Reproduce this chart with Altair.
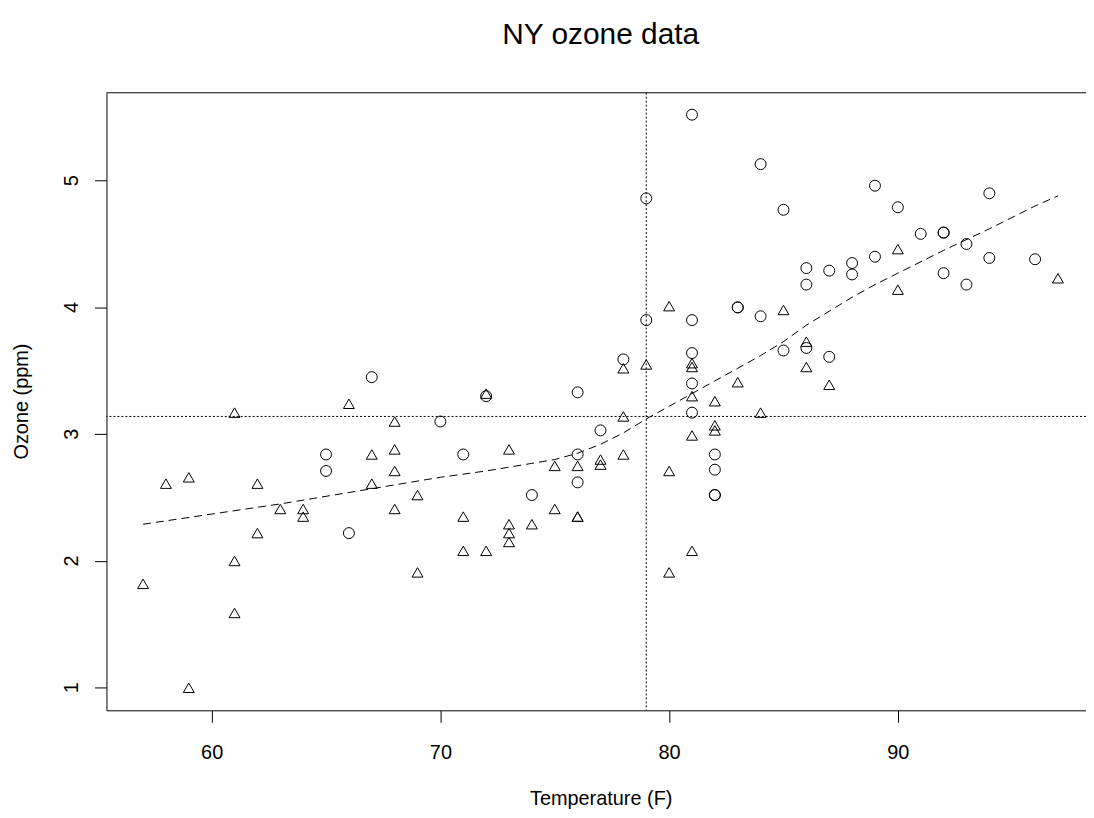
import altair as alt
import pandas as pd

# ---- data ----
tri_temp = [57, 58, 59, 59, 61, 61, 61, 62, 62, 63, 64, 64, 66, 67, 67, 68, 68, 68, 68, 69, 69,
            71, 71, 72, 72, 73, 73, 73, 73, 74, 75, 75, 76, 76, 76, 77, 77, 78, 78, 78, 79,
            80, 80, 80, 81, 81, 81, 81, 81, 82, 82, 82, 83, 84, 85, 86, 86, 87, 90, 90, 97]
tri_ozone = [1.82, 2.61, 2.66, 1.00, 3.17, 2.00, 1.59, 2.61, 2.22, 2.41, 2.41, 2.35, 3.24, 2.84,
             2.61, 3.10, 2.88, 2.71, 2.41, 2.52, 1.91, 2.35, 2.08, 3.32, 2.08, 2.88, 2.29, 2.22,
             2.15, 2.29, 2.75, 2.41, 2.75, 2.35, 2.35, 2.80, 2.76, 3.52, 3.14, 2.84, 3.55, 4.01,
             2.71, 1.91, 3.56, 3.53, 3.30, 2.99, 2.08, 3.26, 3.07, 3.03, 3.41, 3.17, 3.98, 3.73,
             3.53, 3.39, 4.46, 4.14, 4.23]
circ_temp = [65, 65, 66, 67, 70, 71, 72, 74, 76, 76, 76, 77, 78, 79, 79, 81, 81, 81, 81, 81,
             82, 82, 82, 82, 83, 83, 84, 84, 85, 85, 86, 86, 86, 87, 87, 88, 88, 89, 89, 90,
             91, 92, 92, 92, 93, 93, 94, 94, 96]
circ_ozone = [2.84, 2.71, 2.22, 3.45, 3.10, 2.84, 3.30, 2.52, 3.33, 2.84, 2.62, 3.03, 3.59, 4.86,
              3.90, 5.52, 3.90, 3.64, 3.40, 3.17, 2.84, 2.72, 2.52, 2.52, 4.00, 4.00, 5.13, 3.93,
              4.77, 3.66, 4.31, 4.18, 3.68, 4.29, 3.61, 4.35, 4.26, 4.96, 4.40, 4.79, 4.58, 4.59,
              4.59, 4.27, 4.50, 4.18, 4.90, 4.39, 4.38]
fit_temp = [57, 60, 63, 66, 68, 70, 72, 74, 75, 76, 77, 78, 79, 80, 81, 82, 83, 84, 85, 86,
            87, 88, 89, 90, 92, 94, 96, 97]
fit_ozone = [2.29, 2.37, 2.45, 2.54, 2.60, 2.66, 2.71, 2.77, 2.80, 2.85, 2.92, 3.01, 3.12, 3.22,
             3.32, 3.42, 3.52, 3.62, 3.73, 3.86, 3.97, 4.08, 4.18, 4.27, 4.45, 4.62, 4.80, 4.88]
x_ticks = [60, 70, 80, 90]
y_ticks = [1, 2, 3, 4, 5]
y_tick_labels = ["1", "2", "3", "4", "5"]
median_temp = 79
median_ozone = 3.14
title_text = ["NY ozone data"]

FONT = "Liberation Sans"
W, H = 985, 621
xdom = [55.4, 55.4 + W / 23.0]
ydom = [0.822, 5.693]

pts = pd.DataFrame({
    "temp": tri_temp + circ_temp,
    "ozone": tri_ozone + circ_ozone,
    "grp": ["triangle"] * len(tri_temp) + ["circle"] * len(circ_temp),
})
fit = pd.DataFrame({"temp": fit_temp, "ozone": fit_ozone})
ylabs = pd.DataFrame({"ozone": y_ticks, "lab": y_tick_labels})

xs = alt.Scale(domain=xdom, nice=False, zero=False)
ys = alt.Scale(domain=ydom, nice=False, zero=False)

x_axis = alt.Axis(values=x_ticks, format="d", grid=False, tickSize=12, tickColor="black",
                  tickWidth=1, domainColor="black", domainWidth=1,
                  labelFont=FONT, labelFontSize=20, labelColor="black", labelPadding=36,
                  labelBaseline="alphabetic", labelAlign="center",
                  title="Temperature (F)", titleFont=FONT, titleFontSize=20,
                  titleFontWeight="normal", titleColor="black", titleX=497, titleY=94.6,
                  titleBaseline="alphabetic", titleAlign="center")
y_axis = alt.Axis(values=y_ticks, grid=False, tickSize=12, tickColor="black",
                  tickWidth=1, domainColor="black", domainWidth=1, labels=False,
                  title="Ozone (ppm)", titleFont=FONT, titleFontSize=20,
                  titleFontWeight="normal", titleColor="black", titleAngle=270,
                  titleX=-79.8, titleY=310, titleBaseline="alphabetic", titleAlign="center")

X = alt.X("temp:Q", scale=xs, axis=x_axis)
Y = alt.Y("ozone:Q", scale=ys, axis=y_axis)

points = alt.Chart(pts).mark_point(filled=False, size=121, strokeWidth=1, color="black",
                                   opacity=1).encode(
    x=X, y=Y,
    shape=alt.Shape("grp:N", scale=alt.Scale(domain=["circle", "triangle"],
                                             range=["circle", "triangle-up"]), legend=None),
)

line = alt.Chart(fit).mark_line(color="black", strokeWidth=1, strokeDash=[8, 5]).encode(x=X, y=Y)

vline = alt.Chart(pd.DataFrame({"temp": [median_temp]})).mark_rule(
    color="black", strokeWidth=1, strokeDash=[2, 2]).encode(x=X)
hline = alt.Chart(pd.DataFrame({"ozone": [median_ozone]})).mark_rule(
    color="black", strokeWidth=1, strokeDash=[2, 2]).encode(y=Y)

top_border = alt.Chart(pd.DataFrame({"a": [0]})).mark_rule(color="black", strokeWidth=1).encode(
    x=alt.value(0), x2=alt.value(W), y=alt.value(0))

ytext = alt.Chart(ylabs).mark_text(
    font=FONT, fontSize=20, color="black", align="center", baseline="alphabetic",
    angle=270).encode(text="lab:N", y=Y, x=alt.value(-29))

title = alt.Chart(pd.DataFrame({"t": title_text})).mark_text(
    font=FONT, fontSize=30, color="black", align="center", baseline="alphabetic").encode(
    text="t:N", x=alt.value(497), y=alt.value(-49))

chart = alt.layer(vline, hline, line, points, top_border, ytext, title).properties(
    width=W, height=H,
    autosize=alt.AutoSizeParams(type="none"),
    padding={"left": 99, "top": 83, "right": 0, "bottom": 100},
    background="white",
).configure_view(stroke=None)

chart.save("out.html", embed_options={"renderer": "svg", "actions": False})
